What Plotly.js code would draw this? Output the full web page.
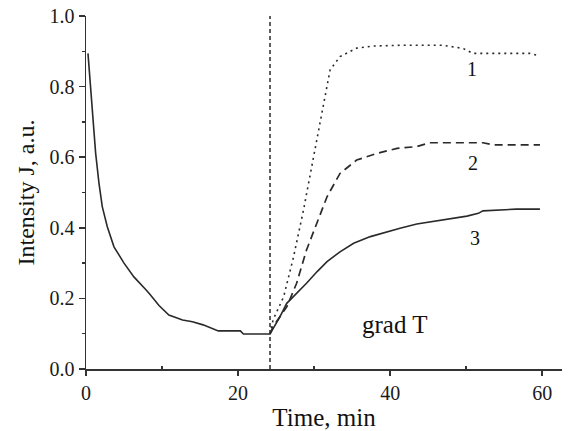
<!DOCTYPE html>
<html>
<head>
<meta charset="utf-8">
<script src="https://cdn.plot.ly/plotly-3.0.1.min.js"></script>
<style>html,body{margin:0;padding:0;background:#fff;}#chart{width:569px;height:431px;}</style>
</head>
<body>
<div id="chart"></div>
<script>
// Curve 3 (solid): decay, then rise after grad T switched on
const time3 = [0.26, 0.61, 0.96, 1.27, 1.71, 2.14, 2.8, 3.68, 5.0, 6.3, 7.85, 8.4, 9.6, 10.9, 12.7, 14.0, 15.4, 16.7, 17.4, 20.3, 20.7, 24.2,
               24.4, 25.5, 26.4, 27.7, 29.0, 30.4, 31.7, 33.4, 35.2, 37.4, 39.6, 41.3, 43.5, 47.0, 50.1, 51.6, 52.2, 56.6, 59.7];
const intensity3 = [0.894, 0.790, 0.696, 0.611, 0.526, 0.46, 0.403, 0.346, 0.30, 0.261, 0.225, 0.212, 0.180, 0.153, 0.139, 0.134, 0.125, 0.115, 0.108, 0.108, 0.099, 0.099,
                    0.106, 0.148, 0.186, 0.214, 0.243, 0.276, 0.304, 0.332, 0.356, 0.375, 0.389, 0.399, 0.411, 0.422, 0.433, 0.441, 0.448, 0.453, 0.453];
// Curve 2 (dashed)
const time2 = [24.2, 24.6, 26.4, 27.7, 29.0, 30.4, 31.7, 33.4, 35.6, 38.3, 40.9, 43.5, 45.2, 52.2, 53.6, 59.7];
const intensity2 = [0.099, 0.12, 0.176, 0.243, 0.337, 0.413, 0.488, 0.554, 0.592, 0.611, 0.625, 0.630, 0.641, 0.641, 0.635, 0.635];
// Curve 1 (dotted)
const time1 = [24.2, 24.6, 26.0, 27.3, 28.6, 29.9, 31.2, 32.1, 33.4, 35.6, 37.8, 41.3, 47.0, 49.6, 50.9, 58.4, 59.7];
const intensity1 = [0.099, 0.139, 0.205, 0.318, 0.45, 0.601, 0.753, 0.847, 0.885, 0.909, 0.915, 0.917, 0.917, 0.908, 0.894, 0.894, 0.887];
// Moment the temperature gradient is applied
const gradTime = [24.2];
// Curve labels
const labelText = ['1', '2', '3', 'grad T'];
const labelX = [50.7, 50.9, 51.1, 40.6];
const labelY = [0.85, 0.585, 0.37, 0.125];

const lineColor = '#2a2a2a';
const font = 'Liberation Serif, Times New Roman, serif';

const traces = [
  {x: time1, y: intensity1, mode: 'lines', line: {color: lineColor, width: 1.6, dash: '2px,4px'}},
  {x: time2, y: intensity2, mode: 'lines', line: {color: lineColor, width: 1.7, dash: '8px,5px'}},
  {x: time3, y: intensity3, mode: 'lines', line: {color: lineColor, width: 1.6}}
];

const layout = {
  width: 569, height: 431,
  margin: {l: 86, r: 7, t: 16, b: 62},
  paper_bgcolor: '#fff', plot_bgcolor: '#fff',
  showlegend: false,
  font: {family: font, color: '#222', size: 20},
  xaxis: {
    range: [0, 62.6], tickvals: [0, 20, 40, 60], ticktext: ['0', '20', '40', '60'],
    showgrid: false, zeroline: false, showline: true, linecolor: '#333', linewidth: 1.5,
    ticks: 'outside', ticklen: 5, tickwidth: 1.5, tickcolor: '#333',
    minor: {tickvals: [10, 30, 50], ticks: 'inside', ticklen: 3, tickwidth: 1.5, tickcolor: '#333'},
    tickfont: {family: font, size: 20, color: '#1a1a1a'},
    title: {text: 'Time, min', font: {family: font, size: 25, color: '#111'}, standoff: 8}
  },
  yaxis: {
    range: [0, 1.0], tickvals: [0, 0.2, 0.4, 0.6, 0.8, 1.0], ticktext: ['0.0', '0.2', '0.4', '0.6', '0.8', '1.0'],
    showgrid: false, zeroline: false, showline: true, linecolor: '#333', linewidth: 1.5,
    ticks: 'outside', ticklen: 6, tickwidth: 1.5, tickcolor: '#333',
    minor: {tickvals: [0.1, 0.3, 0.5, 0.7, 0.9], ticks: 'outside', ticklen: 3, tickwidth: 1.5, tickcolor: '#333'},
    tickfont: {family: font, size: 20, color: '#1a1a1a'},
    title: {text: 'Intensity J, a.u.', font: {family: font, size: 24, color: '#111'}, standoff: 8}
  },
  shapes: gradTime.map(t => ({type: 'line', xref: 'x', yref: 'paper', x0: t, x1: t, y0: 0, y1: 1,
    line: {color: lineColor, width: 1.5, dash: '4px,3px'}})),
  annotations: labelText.map((t, i) => ({
    x: labelX[i], y: labelY[i], xref: 'x', yref: 'y', text: t, showarrow: false,
    font: {family: font, size: i === 3 ? 25 : 20, color: '#111'}
  }))
};

Plotly.newPlot('chart', traces, layout, {staticPlot: true, displayModeBar: false});
</script>
</body>
</html>
